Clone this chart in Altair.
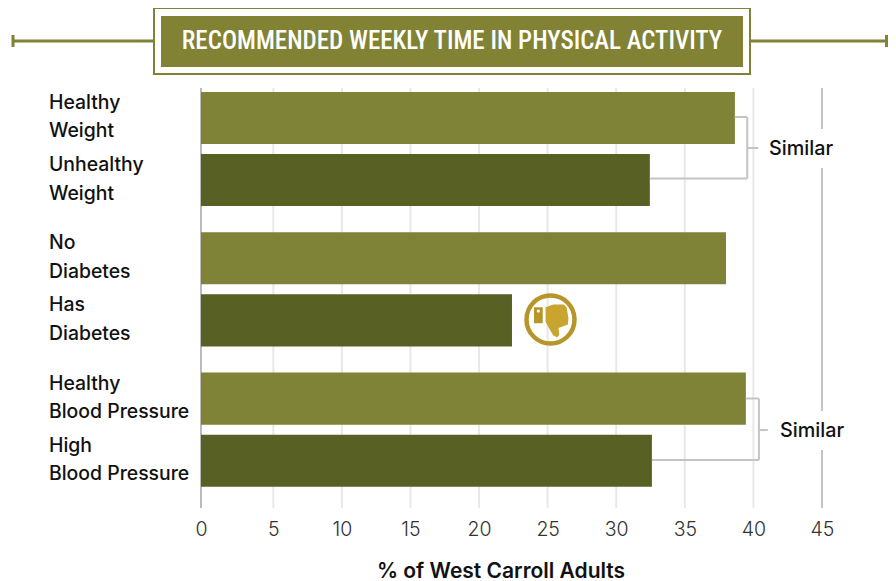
import altair as alt
import pandas as pd

# ---- values ----
groups = ["Weight", "Diabetes", "Blood Pressure"]
statuses = ["Favourable", "Unfavourable"]
row_groups = ["Weight", "Weight", "Diabetes", "Diabetes", "Blood Pressure", "Blood Pressure"]
row_status = ["Favourable", "Unfavourable"] * 3
row_labels = ["Healthy\nWeight", "Unhealthy\nWeight", "No\nDiabetes", "Has\nDiabetes",
              "Healthy\nBlood Pressure", "High\nBlood Pressure"]
percent = [38.65, 32.45, 38.0, 22.4, 39.45, 32.6]
x_ticks = [0, 5, 10, 15, 20, 25, 30, 35, 40, 45]
light_grid = [5, 10, 15, 20, 25, 30, 35, 40]
chart_title = "RECOMMENDED WEEKLY TIME IN PHYSICAL ACTIVITY"
x_title = "% of West Carroll Adults"

LIGHT, DARK = "#7e8338", "#586023"
HEAD = "#818233"
GOLD, GOLD2 = "#b6952a", "#c9a42e"
GREY = "#c4c4c4"
FONT = "Inter"

THUMB = ("M-.19,-.47 L.11,-.58 L.51,-.58 L.62,-.47 L.69,-.05 L.67,.19 L.31,.33 "
         "L.34,.59 L.25,.69 L.11,.62 L-.05,.35 L-.19,.09 Z")
CUFF = "M-.66,-.49 L-.31,-.49 L-.31,.15 L-.66,.15 Z"

df = pd.DataFrame({"group": row_groups, "status": row_status, "label": row_labels, "pct": percent})

x_scale = alt.Scale(domain=[0, 5, 45], range=[0, 72.3, 621], nice=False)
y_enc = alt.Y("group:N", sort=groups, axis=None,
              scale=alt.Scale(domain=groups, paddingInner=0.187, paddingOuter=0.09, align=0.157))
off_enc = alt.YOffset("status:N", sort=statuses,
                      scale=alt.Scale(domain=statuses, paddingInner=0.161, paddingOuter=0))

grid = (alt.Chart(pd.DataFrame({"v": light_grid})).mark_rule(color="#e8e8e8", strokeWidth=2)
        .encode(x=alt.X("v:Q", scale=x_scale,
                        axis=alt.Axis(values=x_ticks, grid=False, domain=False, ticks=False,
                                      labelFont=FONT, labelFontSize=19.5, labelFontWeight=300,
                                      labelColor="#333333", labelPadding=12, labelFlush=False,
                                      title=x_title, titleFont=FONT, titleFontSize=21,
                                      titleFontWeight=600, titleColor="#111111",
                                      titleX=299.5, titleY=52))))
grid45 = (alt.Chart(pd.DataFrame({"v": [45]})).mark_rule(color=GREY, strokeWidth=2)
          .encode(x=alt.X("v:Q", scale=x_scale)))
grid0 = (alt.Chart(pd.DataFrame({"v": [0]})).mark_rule(color="#bbbbbb", strokeWidth=2)
         .encode(x=alt.X("v:Q", scale=x_scale)))

bars = (alt.Chart(df).mark_bar(cornerRadius=0)
        .encode(x=alt.X("pct:Q", scale=x_scale), y=y_enc, yOffset=off_enc,
                color=alt.Color("status:N", legend=None,
                                scale=alt.Scale(domain=statuses, range=[LIGHT, DARK]))))

labels = (alt.Chart(df).mark_text(align="left", baseline="middle", lineBreak="\n", lineHeight=28.5,
                                  font=FONT, fontSize=19.4, fontWeight=500, color="#111111", dy=-15)
          .encode(x=alt.value(-152), y=y_enc, yOffset=off_enc, text="label:N"))


def bracket(top_val, bot_val, at, top_y, bot_y, mid_y, tick_to, word_x):
    layers = [
        alt.Chart(pd.DataFrame({"a": [top_val], "b": [at]})).mark_rule(color=GREY, strokeWidth=2)
        .encode(x=alt.X("a:Q", scale=x_scale), x2="b:Q", y=alt.value(top_y)),
        alt.Chart(pd.DataFrame({"a": [bot_val], "b": [at]})).mark_rule(color=GREY, strokeWidth=2)
        .encode(x=alt.X("a:Q", scale=x_scale), x2="b:Q", y=alt.value(bot_y)),
        alt.Chart(pd.DataFrame({"a": [at]})).mark_rule(color=GREY, strokeWidth=2)
        .encode(x=alt.X("a:Q", scale=x_scale), y=alt.value(top_y), y2=alt.value(bot_y)),
        alt.Chart(pd.DataFrame({"a": [at], "b": [tick_to]})).mark_rule(color=GREY, strokeWidth=2)
        .encode(x=alt.X("a:Q", scale=x_scale), x2="b:Q", y=alt.value(mid_y)),
        alt.Chart(pd.DataFrame({"t": ["Similar"]})).mark_rect(color="white")
        .encode(x=alt.value(word_x), x2=alt.value(word_x + 68),
                y=alt.value(mid_y - 19), y2=alt.value(mid_y + 20)),
        alt.Chart(pd.DataFrame({"t": ["Similar"]}))
        .mark_text(align="left", baseline="middle", font=FONT, fontSize=19.8, fontWeight=500, color="#111111")
        .encode(x=alt.value(word_x + 2), y=alt.value(mid_y + 1), text="t:N"),
    ]
    return layers


brackets = (bracket(percent[0], percent[1], 39.55, 29, 90.5, 60, 40.35, 566)
            + bracket(percent[4], percent[5], 40.4, 310.5, 372, 342, 41.05, 577))

# icon
icon_x, icon_y = 349.5, 231.5
one = pd.DataFrame({"k": [1]})
ring = (alt.Chart(one).mark_point(shape="circle", filled=False, stroke=GOLD, strokeWidth=4.5, size=2304, opacity=1)
        .encode(x=alt.value(icon_x), y=alt.value(icon_y)))
thumb = (alt.Chart(one).mark_point(shape=THUMB, filled=True, color=GOLD2, size=2700, opacity=1)
         .encode(x=alt.value(icon_x), y=alt.value(icon_y)))
cuff = (alt.Chart(one).mark_point(shape=CUFF, filled=True, color=GOLD, size=2500, opacity=1)
        .encode(x=alt.value(icon_x), y=alt.value(icon_y)))
dot = (alt.Chart(one).mark_point(shape="circle", filled=True, color="white", size=10, opacity=1)
       .encode(x=alt.value(icon_x - 12.2), y=alt.value(icon_y - 8.5)))

# heading
head = [
    alt.Chart(one).mark_rule(color=HEAD, strokeWidth=3)
    .encode(x=alt.value(-188), x2=alt.value(-47), y=alt.value(-47)),
    alt.Chart(one).mark_rule(color=HEAD, strokeWidth=3)
    .encode(x=alt.value(549), x2=alt.value(685.5), y=alt.value(-47)),
    alt.Chart(one).mark_rule(color=HEAD, strokeWidth=3)
    .encode(x=alt.value(-188), y=alt.value(-53), y2=alt.value(-41)),
    alt.Chart(one).mark_rule(color=HEAD, strokeWidth=3)
    .encode(x=alt.value(685.5), y=alt.value(-53), y2=alt.value(-41)),
    alt.Chart(one).mark_rect(fill="white", stroke=HEAD, strokeWidth=2)
    .encode(x=alt.value(-47), x2=alt.value(549), y=alt.value(-80), y2=alt.value(-14)),
    alt.Chart(one).mark_rect(color=HEAD)
    .encode(x=alt.value(-40), x2=alt.value(542), y=alt.value(-72), y2=alt.value(-21)),
    alt.Chart(pd.DataFrame({"t": [chart_title]}))
    .mark_text(align="center", baseline="middle", font="Roboto Condensed", fontSize=25,
               fontWeight=500, color="white")
    .encode(x=alt.value(251), y=alt.value(-47), text="t:N"),
]

chart = alt.layer(grid, grid45, grid0, bars, labels, *brackets, ring, thumb, cuff, dot, *head).properties(
    width=621, height=420,
    autosize=alt.AutoSizeParams(type="none"),
    padding={"left": 193, "top": 80, "right": 66, "bottom": 73},
).configure_view(stroke=None).resolve_scale(x="shared", y="shared")

chart.save("out.html", embed_options={"renderer": "svg", "actions": False})
